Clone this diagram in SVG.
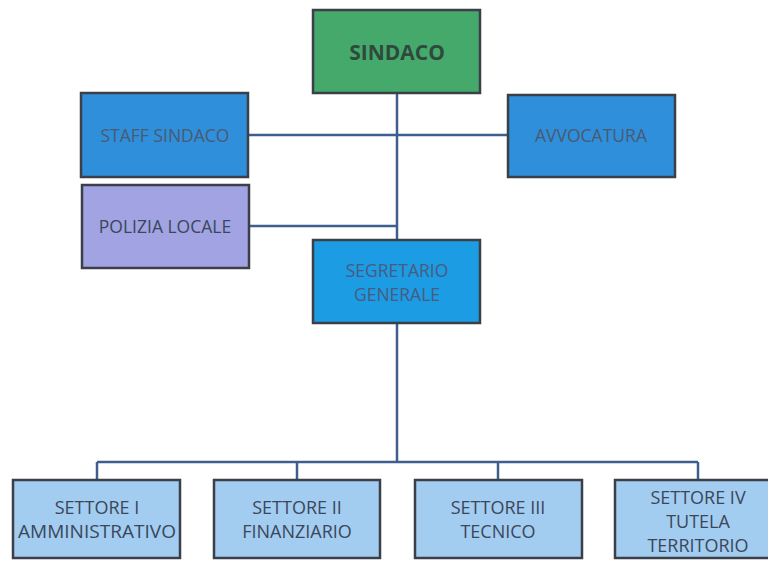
<svg xmlns="http://www.w3.org/2000/svg" width="768" height="562" viewBox="0 0 768 562">
<style>
.box{stroke:#3a3f48;stroke-width:2.5}
.t{font-family:"Open Sans","Liberation Sans",sans-serif;font-size:17.5px;fill:#3a4759;text-anchor:middle;dominant-baseline:central}
.b{font-size:18px}
.c{fill:none;stroke:#3e5f8e;stroke-width:2.5}
</style>
<rect width="768" height="562" fill="#ffffff"/>
<g id="connectors">
<path class="c" d="M397 93V240M248 135H508M249 226H397M397 323V462M97 462H698M97 462V480M297 462V480M498 462V480M698 462V480"/>
</g>
<g id="sindaco">
<rect class="box" x="313" y="10" width="167" height="83" fill="#46a96c"/>
<text class="t" x="397" y="52" style="font-size:21px;font-weight:bold;fill:#2f4a3c">SINDACO</text>
</g>
<g id="staff">
<rect class="box" x="81" y="93" width="167" height="84" fill="#2f8fda"/>
<text class="t" x="165" y="135" style="fill:#4a5a72">STAFF SINDACO</text>
</g>
<g id="avvocatura">
<rect class="box" x="508" y="95" width="167" height="82" fill="#2f8fda"/>
<text class="t" x="591" y="135" style="fill:#4a5a72">AVVOCATURA</text>
</g>
<g id="polizia">
<rect class="box" x="82" y="185" width="167" height="83" fill="#a1a3e3"/>
<text class="t" x="165" y="226">POLIZIA LOCALE</text>
</g>
<g id="segretario">
<rect class="box" x="313" y="240" width="167" height="83" fill="#1b9ce3"/>
<text class="t" x="397" y="270" style="fill:#4a5a80">SEGRETARIO</text>
<text class="t" x="397" y="294" style="fill:#4a5a80">GENERALE</text>
</g>
<g id="settore1">
<rect class="box" x="13" y="480" width="167" height="78" fill="#a3ccf1"/>
<text class="t b" x="97" y="507">SETTORE I</text>
<text class="t b" x="97" y="531" textLength="158" lengthAdjust="spacingAndGlyphs">AMMINISTRATIVO</text>
</g>
<g id="settore2">
<rect class="box" x="214" y="480" width="166" height="78" fill="#a3ccf1"/>
<text class="t b" x="297" y="507">SETTORE II</text>
<text class="t b" x="297" y="531">FINANZIARIO</text>
</g>
<g id="settore3">
<rect class="box" x="415" y="480" width="167" height="78" fill="#a3ccf1"/>
<text class="t b" x="498" y="507">SETTORE III</text>
<text class="t b" x="498" y="531">TECNICO</text>
</g>
<g id="settore4">
<rect class="box" x="615" y="480" width="166" height="78" fill="#a3ccf1"/>
<text class="t b" x="698" y="497">SETTORE IV</text>
<text class="t b" x="698" y="521">TUTELA</text>
<text class="t b" x="698" y="545">TERRITORIO</text>
</g>
</svg>
